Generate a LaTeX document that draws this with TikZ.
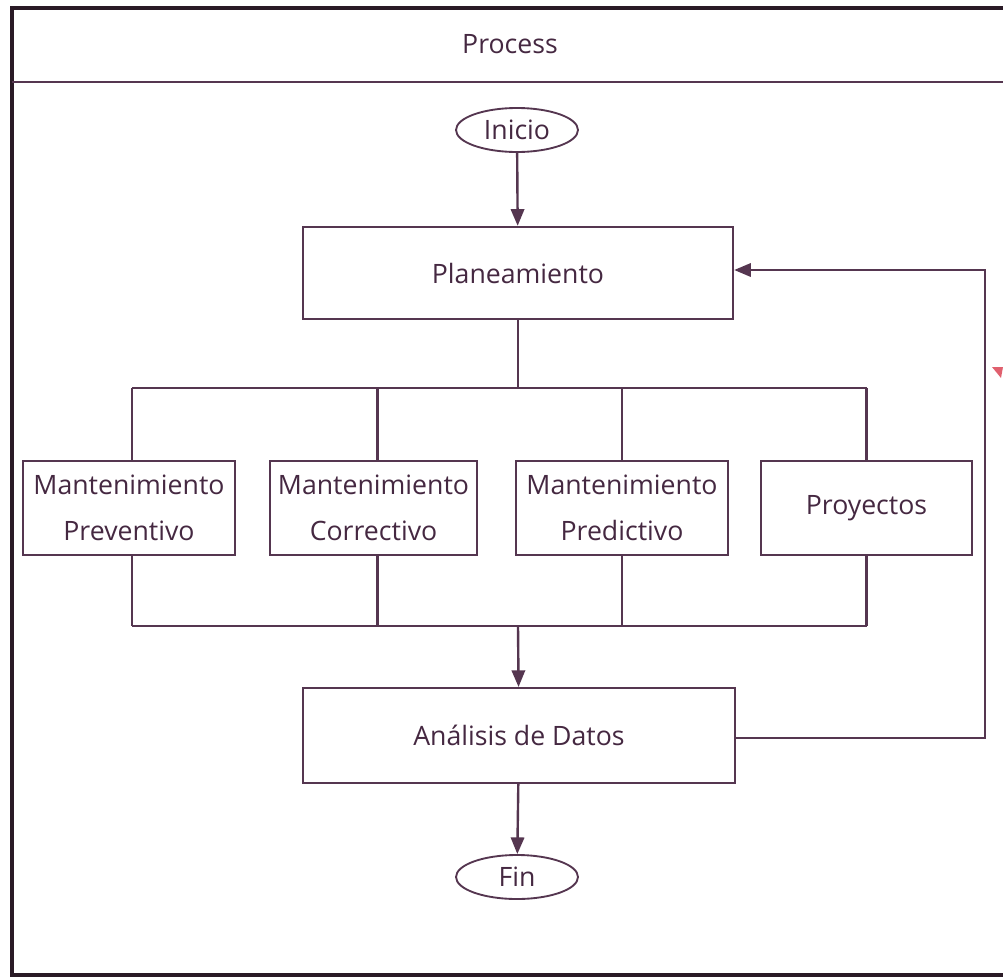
\documentclass[tikz,border=0pt]{standalone}
\usepackage{fontspec}
\setmainfont{Open Sans}
\usetikzlibrary{arrows.meta,shapes.geometric}
\definecolor{ink}{HTML}{452841}
\definecolor{edge}{HTML}{553650}
\definecolor{frame}{HTML}{2A1A26}
\definecolor{redtick}{HTML}{E0606E}
\tikzset{
  txt/.style={text=ink,font=\fontsize{20}{34.5}\selectfont,align=center},
  procbox/.style={txt,draw=edge,line width=1.8pt,rectangle,inner sep=0pt},
  term/.style={txt,draw=edge,line width=1.4pt,ellipse,minimum width=91.5pt,minimum height=33pt,inner sep=0pt},
  wire/.style={draw=edge,line width=1.8pt},
  flow/.style={wire,-{Triangle[length=12.5pt,width=10pt]}}
}
\begin{document}
\begin{tikzpicture}[x=0.75pt,y=-0.75pt]
\useasboundingbox (0,0) rectangle (1003,978);
% outer pool frame and header
\draw[frame,line width=2.4pt] (1003,8) -- (12,8) -- (12,975) -- (1003,975);
\draw[edge,line width=1.9pt] (12,82) -- (1003,82);
\node[txt] (title) at (510,44) {Process};

% flow nodes
\node[term] (inicio) at (517,130) {Inicio};
\node[procbox,minimum width=322.5pt,minimum height=69pt] (plan) at (518,273) {Planeamiento};
\node[procbox,minimum width=159pt,minimum height=70.5pt] (prev) at (129,508) {Mantenimiento\\Preventivo};
\node[procbox,minimum width=155pt,minimum height=70.5pt] (corr) at (373.5,508) {Mantenimiento\\Correctivo};
\node[procbox,minimum width=159pt,minimum height=70.5pt] (pred) at (622,508) {Mantenimiento\\Predictivo};
\node[procbox,minimum width=158pt,minimum height=70.5pt] (proy) at (866.5,508) {Proyectos};
\node[procbox,minimum width=324pt,minimum height=71pt] (anal) at (519,735.5) {Análisis de Datos};
\node[term] (fin) at (517,877) {Fin};

% junction points of the branching buses
\coordinate (splitT) at (518,388);
\coordinate (joinB) at (518,626);
\coordinate (loopR) at (985,738);
\coordinate (loopT) at (985,270);

\draw[flow] (inicio) -- (plan);
\draw[wire] (plan) -- (splitT);
% branch drops, each slightly off its box centre
\foreach \b/\dx in {prev/3,corr/4,pred/0,proy/0}{
  \draw[wire] ([xshift=\dx*0.75pt]\b.north |- splitT) -- ([xshift=\dx*0.75pt]\b.north);
  \draw[wire] ([xshift=\dx*0.75pt]\b.south) -- ([xshift=\dx*0.75pt]\b.south |- joinB);
}
\draw[wire] ([xshift=2.25pt]prev.north |- splitT) -- (proy.north |- splitT);
\draw[wire] ([xshift=2.25pt]prev.south |- joinB) -- (proy.south |- joinB);
\draw[flow] (joinB) -- (anal);
\draw[flow] (anal) -- (fin);
\draw[flow] (anal.east |- loopR) -- (loopR) -- (loopT) -- (plan.east |- loopT);

% small red marker at the right edge
\fill[redtick] (992,367) -- (1003,367) -- (1001,378) -- cycle;
\end{tikzpicture}
\end{document}
